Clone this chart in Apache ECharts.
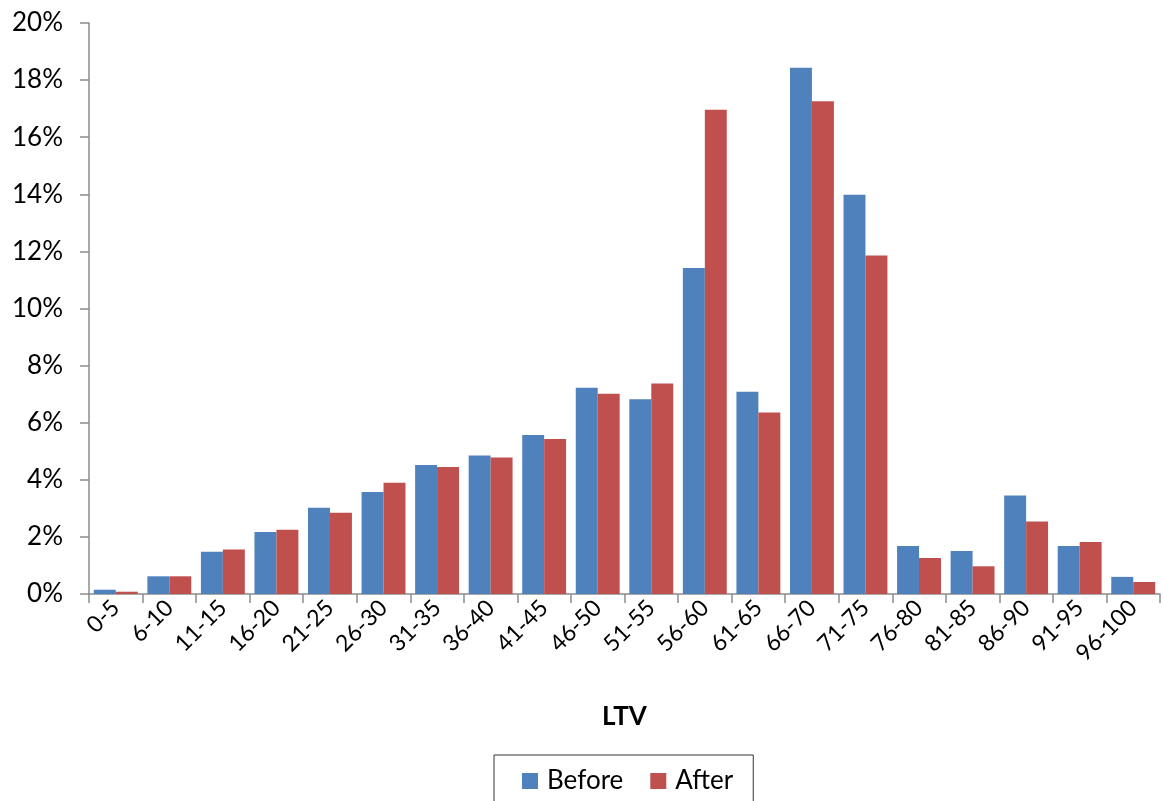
<!DOCTYPE html>
<html>
<head>
<meta charset="utf-8">
<script src="https://cdn.jsdelivr.net/npm/echarts@6/dist/echarts.min.js"></script>
<style>
  html, body { margin: 0; padding: 0; background: #fff; }
  #chart { width: 1163px; height: 801px; }
</style>
</head>
<body>
<div id="chart"></div>
<script>
// LTV buckets
const categories = ['0-5', '6-10', '11-15', '16-20', '21-25', '26-30', '31-35', '36-40', '41-45', '46-50',
  '51-55', '56-60', '61-65', '66-70', '71-75', '76-80', '81-85', '86-90', '91-95', '96-100'];

// Share of loans per bucket, in percent
const before = [0.15, 0.62, 1.48, 2.17, 3.02, 3.57, 4.52, 4.85, 5.57, 7.22,
  6.82, 11.42, 7.08, 18.43, 13.98, 1.68, 1.51, 3.45, 1.68, 0.60];
const after = [0.08, 0.62, 1.56, 2.25, 2.85, 3.90, 4.45, 4.78, 5.43, 7.01,
  7.37, 16.96, 6.36, 17.26, 11.86, 1.26, 0.97, 2.54, 1.82, 0.42];

const yTicks = { min: 0, max: 20, interval: 2 };

const font = 'Lato, "Open Sans", "Liberation Sans", sans-serif';
const axisGray = '#8c8c8c';

const chart = echarts.init(document.getElementById('chart'));
chart.setOption({
  animation: false,
  backgroundColor: '#ffffff',
  textStyle: { fontFamily: font },
  grid: { left: 89, right: 3, top: 23, bottom: 207, containLabel: false },
  legend: {
    data: ['Before', 'After'],
    top: 755,
    left: 494,
    itemWidth: 16,
    itemHeight: 16,
    itemGap: 27,
    icon: 'rect',
    borderColor: '#333',
    borderWidth: 1,
    padding: [13, 20, 22, 28],
    textStyle: { fontFamily: font, fontSize: 26, color: '#000', padding: [0, 0, 0, 4] }
  },
  xAxis: {
    type: 'category',
    data: categories,
    name: 'LTV',
    nameLocation: 'middle',
    nameGap: 110,
    nameTextStyle: { fontFamily: font, fontSize: 26, fontWeight: 'bold', color: '#000' },
    axisLine: { lineStyle: { color: axisGray, width: 1.5 } },
    axisTick: { show: true, length: 9, lineStyle: { color: axisGray, width: 1.5 } },
    axisLabel: { rotate: 45, fontSize: 23, color: '#000', margin: 10, interval: 0 }
  },
  yAxis: {
    type: 'value',
    min: yTicks.min,
    max: yTicks.max,
    interval: yTicks.interval,
    splitLine: { show: false },
    axisLine: { show: true, lineStyle: { color: axisGray, width: 1.5 } },
    axisTick: { show: true, length: 9, lineStyle: { color: axisGray, width: 1.5 } },
    axisLabel: { fontSize: 26, color: '#000', margin: 26, formatter: v => v + '%' }
  },
  series: [
    {
      name: 'Before', type: 'bar', data: before,
      barGap: '0%', barCategoryGap: '18%',
      itemStyle: { color: '#4f81bd' }
    },
    {
      name: 'After', type: 'bar', data: after,
      barGap: '0%', barCategoryGap: '18%',
      itemStyle: { color: '#c0504d' }
    }
  ]
});
</script>
</body>
</html>
